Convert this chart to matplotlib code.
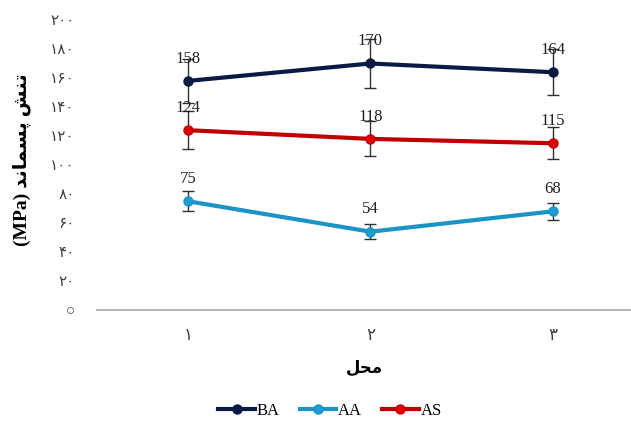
import matplotlib
matplotlib.use('Agg')
import matplotlib.pyplot as plt

plt.rcParams['font.family'] = ['Liberation Serif', 'DejaVu Sans']

# residual stress at each location
sites = [1, 2, 3]
site_labels = ['۱', '۲', '۳']
ba = [158, 170, 164]
aa = [75, 54, 68]
as_ = [124, 118, 115]
ba_err = [15, 17, 16]
aa_err = [7, 5, 6]
as_err = [13, 12, 11]
yticks = [0, 20, 40, 60, 80, 100, 120, 140, 160, 180, 200]
ytick_labels = ['○', '۲۰', '۴۰', '۶۰', '۸۰', '۱۰۰', '۱۲۰', '۱۴۰', '۱۶۰', '۱۸۰', '۲۰۰']

# shaped (visual order) persian strings
xlabel = '\uFEDE\uFEA4\uFEE3'
ylabel = '(MPa) \uFEAA\uFEE7\uFE8E\uFEE4\uFEB4\uFB58 \uFEB6\uFEE8\uFE97'

series = [('BA', ba, ba_err, '#0b1a45', '#0b1a45'),
          ('AA', aa, aa_err, '#1b93c4', '#1b9fd0'),
          ('AS', as_, as_err, '#c00000', '#e00000')]

fig = plt.figure(figsize=(6.31, 4.21), dpi=100)
ax = fig.add_axes([0.1537, 0.2637, 0.8463, 0.6888])

for name, vals, err, col, mcol in series:
    ax.errorbar(sites, vals, yerr=err, fmt='none', ecolor='#303030',
                elinewidth=1, capsize=4, capthick=1, zorder=2)
    ax.plot(sites, vals, '-o', color=col, lw=3, ms=6.5, mfc=mcol, mec=col,
            label=name, zorder=3)
    for x, v in zip(sites, vals):
        ax.annotate(str(v), (x, v), xytext=(0, 16), textcoords='offset points',
                    ha='center', va='center', fontsize=12, color='#202020')

ax.set_xlim(0.5, 3.43)
ax.set_ylim(0, 200)
ax.set_xticks(sites)
ax.set_xticklabels(site_labels, fontsize=12, color='#404040')
ax.set_yticks(yticks)
ax.set_yticklabels(ytick_labels, fontsize=11, color='#404040')
ax.tick_params(axis='x', length=0, pad=13)
ax.tick_params(axis='y', length=0, pad=16)
for s in ['top', 'right', 'left']:
    ax.spines[s].set_visible(False)
ax.spines['bottom'].set_color('#a6a6a6')
ax.spines['bottom'].set_linewidth(1.2)

ax.set_xlabel(xlabel, fontsize=12, fontweight='bold', labelpad=12)
fig.text(0.034, 0.62, ylabel, rotation=90, ha='center', va='center',
         fontsize=14, fontweight='bold')

fig.legend(loc='center', bbox_to_anchor=(0.523, 0.024), ncol=3, frameon=False,
           fontsize=12, handlelength=2.2, handletextpad=0.1, columnspacing=1.2)

fig.savefig('out.png', dpi=100)
